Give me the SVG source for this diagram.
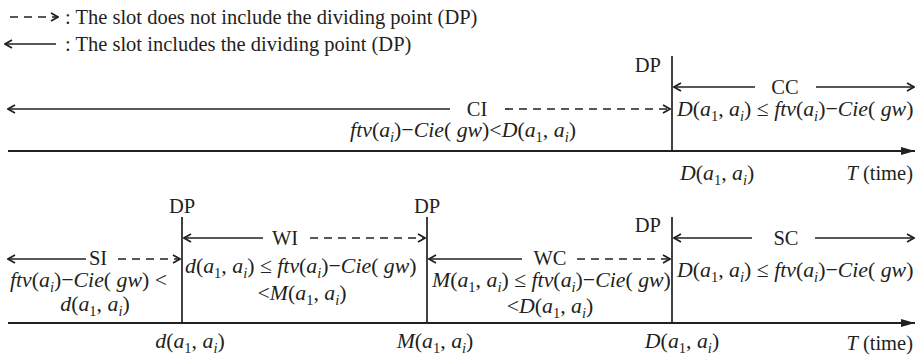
<svg xmlns="http://www.w3.org/2000/svg" width="917" height="359" viewBox="0 0 917 359">
<style>
.t{font-family:"Liberation Serif","Times New Roman",serif;font-size:20.5px;fill:#231f20}
.m{font-family:"Liberation Serif","Times New Roman",serif;font-size:21.8px;fill:#231f20}
.i{font-style:italic}
.s{font-size:14.5px}
.ln{stroke:#231f20;stroke-width:1.7;fill:none}
.ds{stroke:#231f20;stroke-width:1.7;fill:none;stroke-dasharray:8 6}
.ax{stroke:#231f20;stroke-width:2;fill:none}
.mid{text-anchor:middle}
.end{text-anchor:end}
</style>
<defs>
<marker id="oa" viewBox="0 0 10 10" refX="9" refY="5" markerWidth="10" markerHeight="10" markerUnits="userSpaceOnUse" orient="auto">
<path d="M2,1 L9,5 L2,9" fill="none" stroke="#231f20" stroke-width="1.7" stroke-dasharray="none"/>
</marker>
<marker id="fa" viewBox="0 0 14 10" refX="14" refY="5" markerWidth="14" markerHeight="10" markerUnits="userSpaceOnUse" orient="auto">
<path d="M0,1 L14,5 L0,9 Z" fill="#231f20"/>
</marker>
</defs>

<g id="legend">
<line class="ds" x1="10" y1="17" x2="58" y2="17" marker-end="url(#oa)"/>
<text class="t" x="65" y="24">: The slot does not include the dividing point (DP)</text>
<line class="ln" x1="56" y1="44" x2="5" y2="44" marker-end="url(#oa)"/>
<text class="t" x="65" y="51">: The slot includes the dividing point (DP)</text>
</g>

<g id="connectors">
<!-- top timeline -->
<line class="ax" x1="8" y1="151" x2="915" y2="151" marker-end="url(#fa)"/>
<line class="ln" x1="672" y1="56" x2="672" y2="151"/>
<line class="ln" x1="450" y1="109" x2="8" y2="109" marker-end="url(#oa)"/>
<line class="ds" x1="505" y1="109" x2="670" y2="109" marker-end="url(#oa)"/>
<line class="ln" x1="755" y1="87" x2="674" y2="87" marker-end="url(#oa)"/>
<line class="ln" x1="816" y1="87" x2="914" y2="87" marker-end="url(#oa)"/>
<!-- bottom timeline -->
<line class="ax" x1="8" y1="323" x2="915" y2="323" marker-end="url(#fa)"/>
<line class="ln" x1="182" y1="217" x2="182" y2="323"/>
<line class="ln" x1="427" y1="217" x2="427" y2="323"/>
<line class="ln" x1="672" y1="217" x2="672" y2="323"/>
<line class="ln" x1="86" y1="259" x2="8" y2="259" marker-end="url(#oa)"/>
<line class="ds" x1="118" y1="259" x2="180" y2="259" marker-end="url(#oa)"/>
<line class="ln" x1="263" y1="238" x2="184" y2="238" marker-end="url(#oa)"/>
<line class="ds" x1="310" y1="238" x2="425" y2="238" marker-end="url(#oa)"/>
<line class="ln" x1="522" y1="259" x2="429" y2="259" marker-end="url(#oa)"/>
<line class="ds" x1="577" y1="259" x2="670" y2="259" marker-end="url(#oa)"/>
<line class="ln" x1="752" y1="238" x2="674" y2="238" marker-end="url(#oa)"/>
<line class="ln" x1="815" y1="238" x2="914" y2="238" marker-end="url(#oa)"/>
</g>

<g id="top-dp">
<text class="t end" x="661" y="72">DP</text>
</g>
<g id="slot-CI">
<text class="t mid" x="477" y="115.5">CI</text>
<text class="m mid" x="463" y="137"><tspan class="i">ftv</tspan>(<tspan class="i">a</tspan><tspan class="s i" dy="4.5">i</tspan><tspan dy="-4.5">)−</tspan><tspan class="i">Cie</tspan>( <tspan class="i">gw</tspan>)&lt;<tspan class="i">D</tspan>(<tspan class="i">a</tspan><tspan class="s" dy="4.5">1</tspan><tspan dy="-4.5">, </tspan><tspan class="i">a</tspan><tspan class="s i" dy="4.5">i</tspan><tspan dy="-4.5">)</tspan></text>
</g>
<g id="slot-CC">
<text class="t mid" x="785" y="94">CC</text>
<text class="m" x="677" y="116"><tspan class="i">D</tspan>(<tspan class="i">a</tspan><tspan class="s" dy="4.5">1</tspan><tspan dy="-4.5">, </tspan><tspan class="i">a</tspan><tspan class="s i" dy="4.5">i</tspan><tspan dy="-4.5">) ≤ </tspan><tspan class="i">ftv</tspan>(<tspan class="i">a</tspan><tspan class="s i" dy="4.5">i</tspan><tspan dy="-4.5">)−</tspan><tspan class="i">Cie</tspan>( <tspan class="i">gw</tspan>)</text>
</g>
<g id="top-axis-labels">
<text class="m" x="680" y="180"><tspan class="i">D</tspan>(<tspan class="i">a</tspan><tspan class="s" dy="4.5">1</tspan><tspan dy="-4.5">, </tspan><tspan class="i">a</tspan><tspan class="s i" dy="4.5">i</tspan><tspan dy="-4.5">)</tspan></text>
<text class="t end" x="913" y="180"><tspan class="i">T</tspan> (time)</text>
</g>

<g id="bottom-dp">
<text class="t mid" x="182" y="213">DP</text>
<text class="t mid" x="427" y="213">DP</text>
<text class="t end" x="661" y="232">DP</text>
</g>
<g id="slot-SI">
<text class="t mid" x="98" y="265">SI</text>
<text class="m" x="10" y="287"><tspan class="i">ftv</tspan>(<tspan class="i">a</tspan><tspan class="s i" dy="4.5">i</tspan><tspan dy="-4.5">)−</tspan><tspan class="i">Cie</tspan>( <tspan class="i">gw</tspan>) &lt;</text>
<text class="m mid" x="95" y="311"><tspan class="i">d</tspan>(<tspan class="i">a</tspan><tspan class="s" dy="4.5">1</tspan><tspan dy="-4.5">, </tspan><tspan class="i">a</tspan><tspan class="s i" dy="4.5">i</tspan><tspan dy="-4.5">)</tspan></text>
</g>
<g id="slot-WI">
<text class="t mid" x="285" y="245">WI</text>
<text class="m" x="185" y="273"><tspan class="i">d</tspan>(<tspan class="i">a</tspan><tspan class="s" dy="4.5">1</tspan><tspan dy="-4.5">, </tspan><tspan class="i">a</tspan><tspan class="s i" dy="4.5">i</tspan><tspan dy="-4.5">) ≤ </tspan><tspan class="i">ftv</tspan>(<tspan class="i">a</tspan><tspan class="s i" dy="4.5">i</tspan><tspan dy="-4.5">)−</tspan><tspan class="i">Cie</tspan>( <tspan class="i">gw</tspan>)</text>
<text class="m mid" x="302" y="300">&lt;<tspan class="i">M</tspan>(<tspan class="i">a</tspan><tspan class="s" dy="4.5">1</tspan><tspan dy="-4.5">, </tspan><tspan class="i">a</tspan><tspan class="s i" dy="4.5">i</tspan><tspan dy="-4.5">)</tspan></text>
</g>
<g id="slot-WC">
<text class="t mid" x="550" y="265">WC</text>
<text class="m" x="432" y="287"><tspan class="i">M</tspan>(<tspan class="i">a</tspan><tspan class="s" dy="4.5">1</tspan><tspan dy="-4.5">, </tspan><tspan class="i">a</tspan><tspan class="s i" dy="4.5">i</tspan><tspan dy="-4.5">) ≤ </tspan><tspan class="i">ftv</tspan>(<tspan class="i">a</tspan><tspan class="s i" dy="4.5">i</tspan><tspan dy="-4.5">)−</tspan><tspan class="i">Cie</tspan>( <tspan class="i">gw</tspan>)</text>
<text class="m mid" x="550" y="313">&lt;<tspan class="i">D</tspan>(<tspan class="i">a</tspan><tspan class="s" dy="4.5">1</tspan><tspan dy="-4.5">, </tspan><tspan class="i">a</tspan><tspan class="s i" dy="4.5">i</tspan><tspan dy="-4.5">)</tspan></text>
</g>
<g id="slot-SC">
<text class="t mid" x="786" y="245">SC</text>
<text class="m" x="677" y="277"><tspan class="i">D</tspan>(<tspan class="i">a</tspan><tspan class="s" dy="4.5">1</tspan><tspan dy="-4.5">, </tspan><tspan class="i">a</tspan><tspan class="s i" dy="4.5">i</tspan><tspan dy="-4.5">) ≤ </tspan><tspan class="i">ftv</tspan>(<tspan class="i">a</tspan><tspan class="s i" dy="4.5">i</tspan><tspan dy="-4.5">)−</tspan><tspan class="i">Cie</tspan>( <tspan class="i">gw</tspan>)</text>
</g>
<g id="bottom-axis-labels">
<text class="m mid" x="190" y="348"><tspan class="i">d</tspan>(<tspan class="i">a</tspan><tspan class="s" dy="4.5">1</tspan><tspan dy="-4.5">, </tspan><tspan class="i">a</tspan><tspan class="s i" dy="4.5">i</tspan><tspan dy="-4.5">)</tspan></text>
<text class="m mid" x="435" y="348"><tspan class="i">M</tspan>(<tspan class="i">a</tspan><tspan class="s" dy="4.5">1</tspan><tspan dy="-4.5">, </tspan><tspan class="i">a</tspan><tspan class="s i" dy="4.5">i</tspan><tspan dy="-4.5">)</tspan></text>
<text class="m mid" x="682" y="348"><tspan class="i">D</tspan>(<tspan class="i">a</tspan><tspan class="s" dy="4.5">1</tspan><tspan dy="-4.5">, </tspan><tspan class="i">a</tspan><tspan class="s i" dy="4.5">i</tspan><tspan dy="-4.5">)</tspan></text>
<text class="t end" x="913" y="350"><tspan class="i">T</tspan> (time)</text>
</g>
</svg>
